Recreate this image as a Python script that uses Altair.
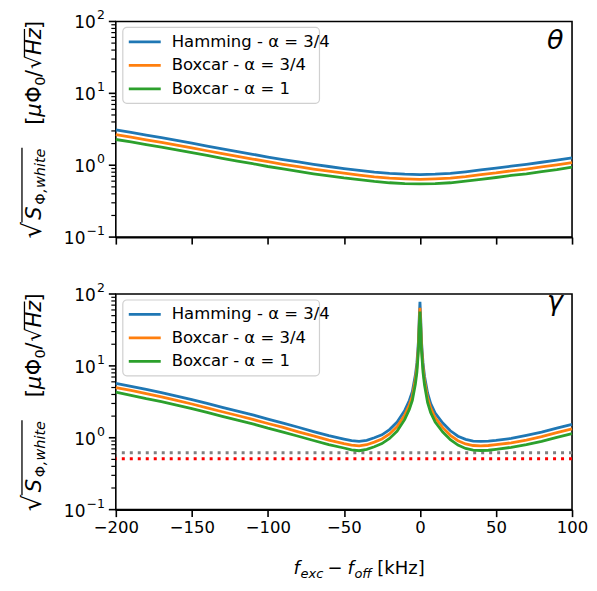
import altair as alt
import pandas as pd

# ---------------- data ----------------
series = ["Hamming - α = 3/4", "Boxcar - α = 3/4", "Boxcar - α = 1"]
colors = ["#1f77b4", "#ff7f0e", "#2ca02c"]

# top panel (theta)
f_top = [-200, -190, -180, -170, -160, -150, -140, -130, -120, -110, -100, -90, -80, -70, -60,
         -50, -40, -30, -20, -10, 0, 10, 20, 30, 40, 50, 60, 70, 80, 90, 100]
top_hamming = [3.10, 2.86, 2.62, 2.42, 2.22, 2.03, 1.85, 1.69, 1.55, 1.42, 1.30, 1.20, 1.11, 1.03, 0.96,
               0.90, 0.85, 0.80, 0.77, 0.75, 0.74, 0.75, 0.77, 0.81, 0.86, 0.91, 0.97, 1.03, 1.10, 1.18, 1.27]
top_boxcar34 = [2.66, 2.46, 2.26, 2.08, 1.91, 1.75, 1.59, 1.45, 1.33, 1.22, 1.12, 1.03, 0.955, 0.885, 0.825,
                0.775, 0.73, 0.69, 0.66, 0.645, 0.635, 0.645, 0.66, 0.695, 0.74, 0.78, 0.835, 0.885, 0.945, 1.01, 1.09]
top_boxcar1 = [2.28, 2.11, 1.94, 1.79, 1.64, 1.50, 1.37, 1.25, 1.14, 1.05, 0.96, 0.89, 0.82, 0.76, 0.71,
               0.665, 0.63, 0.595, 0.57, 0.555, 0.55, 0.555, 0.57, 0.60, 0.635, 0.675, 0.72, 0.76, 0.815, 0.87, 0.94]

# bottom panel (gamma)
f_bot = [-200, -190, -180, -170, -160, -150, -140, -130, -120, -110, -100, -90, -80, -70, -60, -50,
         -45, -40, -35, -30, -25, -20, -15, -10, -7, -5, -3, -2, -1, -0.5, 0, 0.5, 1, 2, 3, 5, 7,
         10, 15, 20, 25, 30, 35, 40, 45, 50, 60, 70, 80, 90, 100]
bot_hamming = [5.7, 5.2, 4.7, 4.25, 3.8, 3.4, 3.0, 2.65, 2.35, 2.08, 1.82, 1.6, 1.4, 1.22, 1.07, 0.96,
               0.91, 0.89, 0.92, 1.0, 1.1, 1.3, 1.65, 2.4, 3.3, 4.4, 7.5, 11, 22, 45, 78, 45, 22, 11, 7.2, 4.2, 3.0,
               2.2, 1.6, 1.25, 1.05, 0.95, 0.9, 0.89, 0.9, 0.92, 0.98, 1.08, 1.2, 1.36, 1.54]
bot_boxcar34 = [5.0, 4.55, 4.1, 3.7, 3.3, 2.95, 2.6, 2.3, 2.04, 1.8, 1.58, 1.39, 1.21, 1.06, 0.93, 0.83,
                0.79, 0.77, 0.8, 0.87, 0.96, 1.13, 1.43, 2.08, 2.85, 3.8, 6.5, 9.5, 19, 38, 64, 38, 19, 9.5, 6.2, 3.6, 2.6,
                1.9, 1.38, 1.08, 0.91, 0.82, 0.78, 0.77, 0.78, 0.8, 0.85, 0.93, 1.04, 1.18, 1.33]
bot_boxcar1 = [4.3, 3.9, 3.5, 3.18, 2.85, 2.55, 2.25, 1.98, 1.76, 1.56, 1.36, 1.2, 1.05, 0.915, 0.8, 0.72,
               0.68, 0.66, 0.69, 0.75, 0.83, 0.98, 1.24, 1.8, 2.48, 3.3, 5.6, 8.2, 16.5, 33, 57, 33, 16.5, 8.2, 5.4, 3.1, 2.25,
               1.65, 1.2, 0.94, 0.79, 0.71, 0.675, 0.665, 0.67, 0.69, 0.735, 0.8, 0.89, 1.01, 1.14]

ref_levels = [0.62, 0.51]
ref_colors = ["#808080", "#ff0000"]

x_ticks = [-200, -150, -100, -50, 0, 50, 100]
y_major = [0.1, 1, 10, 100]
y_exp = ["−1", "0", "1", "2"]
y_minor = [k * m for m in (0.1, 1, 10) for k in range(2, 10)]

# ---------------- helpers ----------------
W, H = 457, 216
FONT = "DejaVu Sans"
ONE = pd.DataFrame({"a": [0]})

xscale = alt.Scale(domain=[-200, 100], nice=False, zero=False)
yscale = alt.Scale(type="log", domain=[0.1, 100], nice=False)
cscale = alt.Scale(domain=series, range=colors)


def long_df(f, cols):
    rows = []
    for name, vals in zip(series, cols):
        for x, v in zip(f, vals):
            rows.append({"f": x, "v": v, "s": name})
    return pd.DataFrame(rows)


def xaxis(show):
    return alt.Axis(values=x_ticks, labels=show, title=None, tickSize=7, tickWidth=1.6,
                    domainWidth=1.6, labelFontSize=16.5, labelPadding=3, grid=False,
                    labelFlush=False, labelOverlap=False, minExtent=0)


def seg(text, px, py, size, italic=False, angle=0):
    return alt.Chart(ONE).mark_text(
        text=text, align="left", baseline="alphabetic", font=FONT, color="black",
        fontSize=size, fontStyle="italic" if italic else "normal", angle=angle
    ).encode(x=alt.value(px), y=alt.value(py))


def bar(px, py, py2):
    return alt.Chart(ONE).mark_rule(color="black", strokeWidth=1.3).encode(
        x=alt.value(px), y=alt.value(py), y2=alt.value(py2))


# ----- manual log y axis (ticks and labels drawn through the y scale) -----
EXP_FS = 12.5


def exp_width(e):
    return sum((0.838 if ch == "−" else 0.636) * EXP_FS for ch in e)


def y_axis_layers():
    lab = pd.DataFrame({"v": y_major, "base": ["10"] * len(y_major), "exp": y_exp})
    lab["bx"] = [-12 - exp_width(e) for e in y_exp]
    major = alt.Chart(lab).mark_rule(color="black", strokeWidth=1.6).encode(
        y=alt.Y("v:Q", scale=yscale, axis=None), x=alt.value(-7), x2=alt.value(0))
    minor = alt.Chart(pd.DataFrame({"m": y_minor})).mark_rule(color="black", strokeWidth=1.2).encode(
        y=alt.Y("m:Q", scale=yscale, axis=None), x=alt.value(-4.5), x2=alt.value(0))
    base = alt.Chart(lab).mark_text(align="right", baseline="middle", fontSize=17, font=FONT,
                                    color="black", dy=2).encode(
        y=alt.Y("v:Q", scale=yscale, axis=None),
        x=alt.X("bx:Q", scale=None, axis=None),
        text="base:N")
    sup = alt.Chart(lab).mark_text(align="right", baseline="middle", fontSize=EXP_FS, font=FONT,
                                   color="black", dy=-6).encode(
        y=alt.Y("v:Q", scale=yscale, axis=None),
        x=alt.value(-11),
        text="exp:N")
    return [major, minor, base, sup]


# ----- manual legend (box, colour strokes, labels) -----
def legend_layers():
    ldf = pd.DataFrame({"s": series, "ly": [20.5, 44, 67.5]})
    box = alt.Chart(ONE).mark_rect(fill="white", stroke="#d0d0d0", strokeWidth=1.2,
                                   cornerRadius=4).encode(
        x=alt.value(7), x2=alt.value(204), y=alt.value(6), y2=alt.value(82))
    strokes = alt.Chart(ldf).mark_rule(strokeWidth=2.8).encode(
        x=alt.value(13), x2=alt.value(45),
        y=alt.Y("ly:Q", scale=None, axis=None),
        stroke=alt.Stroke("s:N", scale=cscale, legend=None))
    labels = alt.Chart(ldf).mark_text(align="left", baseline="middle", fontSize=16.5, font=FONT,
                                      color="black").encode(
        x=alt.value(56), y=alt.Y("ly:Q", scale=None, axis=None), text="s:N")
    return [box, strokes, labels]


# y-axis title pieces (rotated), relative to the plot area
BX, SX = -75, -71
DY = -4.5


def ytitle_layers():
    return [
        seg("√", BX, 222 + DY, 26, False, 270),
        seg("S", BX, 203 + DY, 21, True, 270),
        seg("Φ", SX, 188 + DY, 14.5, False, 270),
        seg(",white", SX, 176 + DY, 14.5, True, 270),
        bar(-94, 131 + DY, 206 + DY),
        seg("[", BX, 108 + DY, 21, False, 270),
        seg("μ", BX, 100 + DY, 21, True, 270),
        seg("Φ", BX, 86 + DY, 21, False, 270),
        seg("0", SX, 69 + DY, 14.5, False, 270),
        seg("/", BX, 60 + DY, 21, False, 270),
        seg("√", BX, 52 + DY, 21, False, 270),
        seg("Hz", BX, 38 + DY, 21, True, 270),
        seg("]", BX, 12 + DY, 21, False, 270),
        bar(-91.5, 12 + DY, 40 + DY),
    ]


# x-axis title pieces, relative to the bottom plot area
XB, XS = H + 64, H + 68


def xtitle_layers():
    return [
        seg("f", 178, XB, 18, True),
        seg("exc", 185, XS, 13, True),
        seg("−", 212, XB, 18, False),
        seg("f", 232, XB, 18, True),
        seg("off", 239, XS, 13, True),
        seg("[kHz]", 262, XB, 18, False),
    ]


def panel(df, label, label_y, show_x, with_refs):
    layers = []
    if with_refs:
        rdf = pd.DataFrame({"level": ref_levels, "c": ref_colors})
        layers.append(
            alt.Chart(rdf).mark_rule(strokeWidth=3, strokeDash=[3, 5]).encode(
                y=alt.Y("level:Q", scale=yscale, axis=None),
                stroke=alt.Stroke("c:N", scale=None, legend=None),
            )
        )
    lines = alt.Chart(df).mark_line(strokeWidth=2.8).encode(
        x=alt.X("f:Q", scale=xscale, axis=xaxis(show_x)),
        y=alt.Y("v:Q", scale=yscale, axis=None),
        color=alt.Color("s:N", scale=cscale, legend=None),
    )
    layers.append(lines)
    layers += y_axis_layers()
    layers += legend_layers()
    layers.append(seg(label, 432, label_y, 27, True))
    layers += ytitle_layers()
    if show_x:
        layers += xtitle_layers()
    return alt.layer(*layers).properties(width=W, height=H)


top = panel(long_df(f_top, [top_hamming, top_boxcar34, top_boxcar1]), "θ", 28, False, False)
bot = panel(long_df(f_bot, [bot_hamming, bot_boxcar34, bot_boxcar1]), "γ", 16, True, True)

chart = (
    alt.vconcat(top, bot, spacing=33)
    .properties(padding={"left": 11, "top": 0, "right": 0, "bottom": 0})
    .configure(font=FONT)
    .configure_view(stroke="black", strokeWidth=1.6)
    .configure_axis(labelFont=FONT, labelColor="black", tickColor="black", domainColor="black")
)

chart.save("out.html", embed_options={"renderer": "svg", "actions": False})
